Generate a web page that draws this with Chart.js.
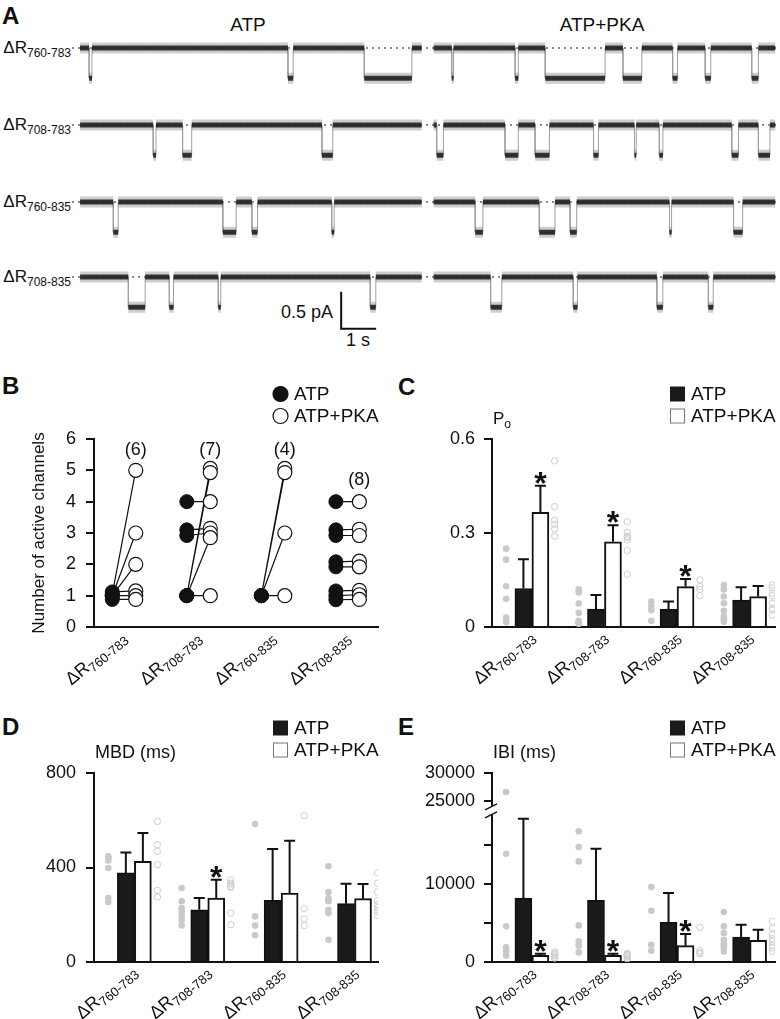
<!DOCTYPE html>
<html>
<head>
<meta charset="utf-8">
<script src="https://cdn.jsdelivr.net/npm/chart.js@4/dist/chart.umd.min.js"></script>
<style>
body { margin: 0; background: #fff; font-family: 'Liberation Sans', Arial, sans-serif; color: #111; }
#fig { position: relative; width: 780px; height: 1019px; overflow: hidden; }
canvas { position: absolute; }
.t { position: absolute; white-space: nowrap; line-height: 1; }
.pl { font-weight: bold; font-size: 24px; }
.rl { font-size: 17px; left: 0; width: 71px; text-align: right; }
.rl sub { font-size: 12px; vertical-align: -4px; }
</style>
</head>
<body>
<div id="fig">
  <div class="t pl" style="left:2px;top:4px">A</div>
  <div class="t pl" style="left:2px;top:374px">B</div>
  <div class="t pl" style="left:398px;top:375px">C</div>
  <div class="t pl" style="left:2px;top:715px">D</div>
  <div class="t pl" style="left:398px;top:715px">E</div>

  <div class="t" style="left:198px;top:15px;width:100px;text-align:center;font-size:19px">ATP</div>
  <div class="t" style="left:552px;top:15px;width:100px;text-align:center;font-size:19px">ATP+PKA</div>

  <div class="t rl" style="top:39px">&Delta;R<sub>760-783</sub></div>
  <div class="t rl" style="top:116px">&Delta;R<sub>708-783</sub></div>
  <div class="t rl" style="top:193px">&Delta;R<sub>760-835</sub></div>
  <div class="t rl" style="top:268px">&Delta;R<sub>708-835</sub></div>

  <div class="t" style="left:233px;top:303px;width:100px;text-align:right;font-size:18px">0.5 pA</div>
  <div class="t" style="left:338px;top:331px;width:40px;text-align:center;font-size:18px">1 s</div>

  <canvas id="tr1" width="706" height="55" style="left:72px;top:33px"></canvas>
  <canvas id="tr2" width="706" height="55" style="left:72px;top:110px"></canvas>
  <canvas id="tr3" width="706" height="55" style="left:72px;top:187px"></canvas>
  <canvas id="tr4" width="706" height="95" style="left:72px;top:262px"></canvas>

  <canvas id="pB" width="390" height="320" style="left:0;top:370px"></canvas>
  <canvas id="pC" width="390" height="320" style="left:390px;top:370px"></canvas>
  <canvas id="pD" width="390" height="319" style="left:0;top:700px"></canvas>
  <canvas id="pE" width="390" height="319" style="left:390px;top:700px"></canvas>
</div>
<script>
const FONT = "'Liberation Sans', Arial, sans-serif";
Chart.defaults.font.family = FONT;
Chart.defaults.color = '#111';

// ---------- A: single channel traces (openings in s) ----------
const recATP = [0, 9.76];
const recPKA = [10.1, 19.86];
const openAmp = -0.41;   // pA
const row1ATP = [[0.26, 0.34], [5.94, 6.09], [8.12, 9.48]];
const row1PKA = [[10.62, 10.67], [12.43, 12.52], [13.29, 15.0], [15.51, 16.05], [16.93, 17.07], [17.86, 18.02], [19.19, 19.38]];
const row2ATP = [[2.09, 2.17], [2.93, 3.19], [6.91, 7.22]];
const row2PKA = [[10.19, 10.38], [12.14, 12.52], [13.0, 13.41], [14.67, 14.81], [15.84, 15.89], [16.55, 16.65], [18.62, 18.81], [19.38, 19.71]];
const row3ATP = [[0.95, 1.09], [4.08, 4.46], [4.91, 5.07], [7.19, 7.26]];
const row3PKA = [[11.29, 11.51], [13.12, 13.57], [14.0, 14.19], [16.84, 16.9], [18.67, 18.93]];
const row4ATP = [[1.38, 1.86], [2.55, 2.67], [3.95, 4.02], [8.29, 8.45]];
const row4PKA = [[11.73, 12.05], [14.09, 14.21], [16.48, 16.65], [17.95, 18.09]];
const scaleBarT = 7.46, scaleBarTop = -0.2;  // 1 s x 0.5 pA

// ---------- B: number of active channels ----------
const catLabels = ['760-783', '708-783', '760-835', '708-835'];
const chATP = [[1.05, 1, 1, 1.12, 1, 0.88], [4, 3.1, 2.92, 1, 1, 1, 1], [1, 1, 1, 1], [4, 3.1, 2.92, 2.08, 1.92, 1.15, 1, 0.87]];
const chPKA = [[5, 3, 2, 1.15, 1, 0.88], [4, 3.15, 3, 5.06, 4.93, 2.85, 1], [5.06, 4.93, 3, 1], [4, 3.12, 2.92, 2.1, 1.92, 1.17, 1.03, 0.88]];
const chN = ['(6)', '(7)', '(4)', '(8)'];
const chNy = [5.65, 5.65, 5.65, 4.7];
const chTicks = [0, 1, 2, 3, 4, 5, 6];

// ---------- C: Po ----------
const poATP = [0.123, 0.057, 0.057, 0.086];
const poATPerr = [0.093, 0.045, 0.024, 0.041];
const poPKA = [0.366, 0.272, 0.129, 0.097];
const poPKAerr = [0.085, 0.053, 0.024, 0.034];
const poStar = [1, 1, 1, 0];
const poDotsATP = [[0.25, 0.215, 0.13, 0.09, 0.03, 0.015], [0.12, 0.11, 0.075, 0.045, 0.02, 0.015, 0.01], [0.081, 0.067, 0.054, 0.02], [0.134, 0.12, 0.097, 0.076, 0.052, 0.033, 0.025, 0.017]];
const poDotsPKA = [[0.53, 0.384, 0.341, 0.328, 0.313, 0.29], [0.336, 0.302, 0.29, 0.286, 0.278, 0.244, 0.168], [0.15, 0.13, 0.12, 0.1], [0.134, 0.125, 0.108, 0.1, 0.076, 0.06, 0.054, 0.038]];
const poTicks = [0, 0.3, 0.6];

// ---------- D: MBD ----------
const mbdATP = [377, 221, 261, 247];
const mbdATPerr = [87, 50, 217, 84];
const mbdPKA = [426, 271, 292, 268];
const mbdPKAerr = [120, 77, 221, 62];
const mbdStar = [0, 1, 0, 0];
const mbdDotsATP = [[447, 440, 430, 398, 271, 254], [313, 257, 228, 214, 197, 179, 155], [584, 193, 154, 113], [405, 296, 271, 262, 257, 221, 207, 94]];
const mbdDotsPKA = [[595, 497, 468, 412, 303, 275], [348, 334, 330, 320, 316, 207, 158], [619, 226, 182, 154], [377, 334, 296, 260, 243, 230, 214, 197]];
const mbdTicks = [0, 400, 800];

// ---------- E: IBI ----------
const ibiATP = [8200, 7900, 5080, 3200];
const ibiATPerr = [10170, 6630, 3760, 1580];
const ibiPKA = [850, 850, 2090, 2770];
const ibiPKAerr = [210, 210, 1500, 1370];
const ibiStar = [1, 1, 1, 0];
const ibiDotsATP = [[26650, 13880, 4570, 1870, 1360, 800], [16750, 14740, 12900, 4690, 2640, 2090, 1230], [9620, 6580, 2220, 1450], [6410, 4570, 3720, 2860, 2350, 2100, 1870, 1360]];
const ibiDotsPKA = [[1300, 1100, 950, 800, 600, 500], [1100, 1000, 900, 800, 700, 500, 400], [4440, 1450, 1200, 1060], [5210, 4360, 3500, 3000, 2640, 2090, 1800, 1360]];
const ibiTicksLow = [0, 5000, 10000, 15000];
const ibiLabelsLow = ['0', '', '10000', ''];
const ibiTicksHigh = [25000, 30000];

// =====================================================================
function traceRow(id, opsATP, opsPKA, withBar) {
  const closed = [], open = [], trans = [];
  [[recATP, opsATP], [recPKA, opsPKA]].forEach(([rec, ops]) => {
    let t = rec[0];
    trans.push({x: rec[0], y: 0});
    ops.forEach(([a, b]) => {
      closed.push({x: t, y: 0}, {x: a, y: 0}, {x: a, y: null});
      open.push({x: a, y: openAmp}, {x: b, y: openAmp}, {x: b, y: null});
      trans.push({x: a, y: 0}, {x: a, y: openAmp}, {x: b, y: openAmp}, {x: b, y: 0});
      t = b;
    });
    closed.push({x: t, y: 0}, {x: rec[1], y: 0}, {x: rec[1], y: null});
    trans.push({x: rec[1], y: 0}, {x: rec[1], y: null});
  });
  const canvas = document.getElementById(id);
  const xMin = -0.23, xMax = 19.94;
  const yMax = 15 / 74, yMin = yMax - canvas.height / 74;
  const band = (data, w, c, order) => ({data, borderColor: c, borderWidth: w, pointRadius: 0, spanGaps: false, borderCapStyle: 'butt', order});
  const datasets = [
    band(closed, 5, 'rgba(25,25,25,0.85)', 1),
    band(open, 5, 'rgba(25,25,25,0.85)', 1),
    band(closed, 11, 'rgba(90,90,90,0.3)', 2),
    band(open, 11, 'rgba(90,90,90,0.3)', 2),
    band(trans, 1, '#a0a0a0', 3),
    {data: [{x: xMin, y: 0}, {x: xMax, y: 0}], borderColor: '#8a8a8a', borderWidth: 2, borderDash: [2, 4], pointRadius: 0, order: 4}
  ];
  if (withBar) {
    datasets.push({data: [{x: scaleBarT, y: scaleBarTop}, {x: scaleBarT, y: scaleBarTop - 0.5}, {x: scaleBarT + 1, y: scaleBarTop - 0.5}],
      borderColor: '#111', borderWidth: 2, pointRadius: 0, order: 0});
  }
  new Chart(canvas, {
    type: 'line',
    data: {datasets},
    options: {
      responsive: false, animation: false, devicePixelRatio: 1,
      layout: {padding: 0},
      plugins: {legend: {display: false}, tooltip: {enabled: false}},
      scales: {
        x: {type: 'linear', min: xMin, max: xMax, display: false},
        y: {type: 'linear', min: yMin, max: yMax, display: false}
      }
    }
  });
}
traceRow('tr1', row1ATP, row1PKA, false);
traceRow('tr2', row2ATP, row2PKA, false);
traceRow('tr3', row3ATP, row3PKA, false);
traceRow('tr4', row4ATP, row4PKA, true);

// ---------- shared drawing helpers ----------
function catLabel(ctx, x, y, sub) {
  ctx.save();
  ctx.translate(x, y);
  ctx.rotate(-40 * Math.PI / 180);
  ctx.fillStyle = '#111';
  ctx.textAlign = 'left';
  ctx.textBaseline = 'alphabetic';
  ctx.font = '18px ' + FONT;
  const w1 = ctx.measureText('\u0394R').width;
  ctx.font = '13px ' + FONT;
  const w2 = ctx.measureText(sub).width;
  ctx.font = '18px ' + FONT;
  ctx.fillText('\u0394R', -(w1 + w2), 13);
  ctx.font = '13px ' + FONT;
  ctx.fillText(sub, -w2, 17);
  ctx.restore();
}
function legend(ctx, ca, shape) {
  const x0 = ca.right - 105;
  const rows = [[ca.top - 45, 'ATP', true], [ca.top - 23, 'ATP+PKA', false]];
  rows.forEach(([yc, txt, filled]) => {
    ctx.save();
    if (shape === 'circle') {
      ctx.beginPath();
      ctx.arc(x0 + 7.5, yc, 7.5, 0, Math.PI * 2);
      ctx.fillStyle = filled ? '#111' : '#fff';
      ctx.fill();
      ctx.lineWidth = 1.2; ctx.strokeStyle = '#111'; ctx.stroke();
    } else if (filled) {
      ctx.fillStyle = '#1a1a1a';
      ctx.fillRect(x0, yc - 7.5, 15, 15);
    } else {
      ctx.strokeStyle = '#777'; ctx.lineWidth = 1;
      ctx.strokeRect(x0 + 0.5, yc - 7, 14, 14);
    }
    ctx.fillStyle = '#111';
    ctx.font = '19px ' + FONT;
    ctx.textBaseline = 'middle';
    ctx.fillText(txt, x0 + 21, yc + 1);
    ctx.restore();
  });
}
function yTitle(ctx, ca, main, sub) {
  ctx.save();
  ctx.fillStyle = '#111';
  ctx.textBaseline = 'alphabetic';
  ctx.font = (sub ? '17px ' : '18px ') + FONT;
  ctx.fillText(main, ca.left + 1, ca.top - 15);
  if (sub) {
    const w = ctx.measureText(main).width;
    ctx.font = '12px ' + FONT;
    ctx.fillText(sub, ca.left + 1 + w, ca.top - 11);
  }
  ctx.restore();
}
function yAxis(o) {
  return Object.assign({
    type: 'linear', position: 'left', min: o.min, max: o.max,
    border: {display: true, color: '#111', width: 2},
    grid: {display: true, drawOnChartArea: false, drawTicks: true, tickLength: 8, color: '#111', lineWidth: 2},
    ticks: {font: {size: 18}, color: '#111', padding: o.pad,
      callback: v => o.labels ? o.labels[o.ticks.indexOf(v)] : String(v)},
    afterFit: s => { s.width = o.w; },
    afterBuildTicks: s => { s.ticks = o.ticks.map(v => ({value: v})); }
  }, o.extra || {});
}
function xAxis(max, h) {
  return {
    type: 'linear', min: 0, max, offset: false,
    grid: {display: false},
    border: {display: true, color: '#111', width: 2},
    ticks: {display: false},
    afterFit: s => { s.height = h; }
  };
}

// ---------- B ----------
(function () {
  const catX = catLabels.map((c, i) => i + 0.40);
  const ax = catX.map(x => x - 0.155), px = catX.map(x => x + 0.16);
  const lines = [], atpPts = [], pkaPts = [];
  chATP.forEach((arr, i) => {
    arr.forEach((v, j) => {
      lines.push({x: ax[i], y: v}, {x: px[i], y: chPKA[i][j]}, {x: px[i], y: null});
      atpPts.push({x: ax[i], y: v});
    });
    chPKA[i].forEach(v => pkaPts.push({x: px[i], y: v}));
  });
  const deco = {
    id: 'decoB',
    afterDraw(chart) {
      const ctx = chart.ctx, ca = chart.chartArea, xs = chart.scales.x, ys = chart.scales.y;
      catX.forEach((x, i) => catLabel(ctx, xs.getPixelForValue(x) - 5, ca.bottom + 2, catLabels[i]));
      ctx.save();
      ctx.fillStyle = '#111'; ctx.font = '18px ' + FONT; ctx.textAlign = 'center'; ctx.textBaseline = 'middle';
      chN.forEach((t, i) => ctx.fillText(t, xs.getPixelForValue(px[i]), ys.getPixelForValue(chNy[i])));
      ctx.restore();
      legend(ctx, ca, 'circle');
      ctx.save();
      ctx.translate(39, (ca.top + ca.bottom) / 2);
      ctx.rotate(-Math.PI / 2);
      ctx.fillStyle = '#111'; ctx.font = '17px ' + FONT; ctx.textAlign = 'center'; ctx.textBaseline = 'middle';
      ctx.fillText('Number of active channels', 0, 0);
      ctx.restore();
    }
  };
  new Chart(document.getElementById('pB'), {
    type: 'scatter',
    data: {datasets: [
      {data: atpPts, pointRadius: 7, pointBackgroundColor: '#111', pointBorderColor: '#111', pointBorderWidth: 1, order: 0},
      {data: pkaPts, pointRadius: 7, pointBackgroundColor: '#fff', pointBorderColor: '#111', pointBorderWidth: 1.2, order: 1},
      {type: 'line', data: lines, borderColor: '#111', borderWidth: 1.2, pointRadius: 0, spanGaps: false, order: 2}
    ]},
    options: {
      responsive: false, animation: false, devicePixelRatio: 1,
      layout: {padding: {top: 69, right: 12, left: 0, bottom: 0}},
      plugins: {legend: {display: false}, tooltip: {enabled: false}},
      scales: {
        x: xAxis(3.81, 63),
        y: yAxis({min: 0, max: 6, ticks: chTicks, w: 94, pad: 10})
      }
    },
    plugins: [deco]
  });
})();

// ---------- bar panels C, D, E ----------
function barPanel(id, p) {
  const catX = catLabels.map((c, i) => i + 0.55);
  const lowKey = 'y';
  const split = p.split;   // lower-scale maximum for a broken axis
  const dotsA = [], dotsAHigh = [], dotsP = [];
  p.dotsA.forEach((arr, i) => arr.forEach(v => {
    (split && v > split ? dotsAHigh : dotsA).push({x: catX[i] - 0.355, y: v});
  }));
  p.dotsP.forEach((arr, i) => arr.forEach(v => dotsP.push({x: catX[i] + 0.314, y: v})));
  const datasets = [
    {type: 'bar', data: catX.map((x, i) => ({x, y: p.atp[i]})), backgroundColor: '#1a1a1a', borderColor: '#111', borderWidth: 2,
      barThickness: 17, yAxisID: lowKey, order: 1},
    {type: 'bar', data: catX.map((x, i) => ({x, y: p.pka[i]})), backgroundColor: '#fff', borderColor: '#111', borderWidth: 2,
      barThickness: 17, yAxisID: lowKey, order: 1},
    {type: 'scatter', data: dotsA, pointRadius: 3.3, pointBackgroundColor: '#c9c9c9', pointBorderColor: '#c9c9c9', pointBorderWidth: 0, yAxisID: lowKey, order: 2},
    {type: 'scatter', data: dotsP, pointRadius: 3.2, pointBackgroundColor: 'rgba(0,0,0,0)', pointBorderColor: '#cdcdcd', pointBorderWidth: 1, yAxisID: lowKey, order: 2}
  ];
  if (split) {
    datasets.push({type: 'scatter', data: dotsAHigh, pointRadius: 3.3, pointBackgroundColor: '#c9c9c9', pointBorderColor: '#c9c9c9', pointBorderWidth: 0, yAxisID: 'yTop', order: 2});
  }
  const deco = {
    id: 'deco' + id,
    afterDraw(chart) {
      const ctx = chart.ctx, ca = chart.chartArea, xs = chart.scales.x, ys = chart.scales[lowKey];
      catX.forEach((x, i) => catLabel(ctx, xs.getPixelForValue(x) - 5, ca.bottom + 1, catLabels[i]));
      legend(ctx, ca, 'square');
      yTitle(ctx, ca, p.title, p.titleSub);
      ctx.save();
      ctx.strokeStyle = '#111'; ctx.lineWidth = 2;
      [[0, p.atpErr], [1, p.pkaErr]].forEach(([di, errs]) => {
        const meta = chart.getDatasetMeta(di);
        meta.data.forEach((bar, i) => {
          const top = ys.getPixelForValue(chart.data.datasets[di].data[i].y + errs[i]);
          ctx.beginPath();
          ctx.moveTo(bar.x, bar.y); ctx.lineTo(bar.x, top);
          ctx.moveTo(bar.x - 5.5, top); ctx.lineTo(bar.x + 5.5, top);
          ctx.stroke();
          if (di === 1 && p.star[i]) {
            ctx.fillStyle = '#111';
            ctx.font = 'bold 32px ' + FONT;
            ctx.textAlign = 'center';
            ctx.textBaseline = 'alphabetic';
            ctx.fillText('*', bar.x, top + 8);
          }
        });
      });
      ctx.restore();
      if (split) {
        const b = chart.scales.yTop.bottom, axx = chart.scales.y.right;
        ctx.save();
        ctx.fillStyle = '#fff';
        ctx.fillRect(axx - 4, b - 5, 8, 9);
        ctx.strokeStyle = '#111'; ctx.lineWidth = 1.5;
        ctx.beginPath();
        ctx.moveTo(axx - 7, b - 1); ctx.lineTo(axx + 5, b - 7);
        ctx.moveTo(axx - 7, b + 7); ctx.lineTo(axx + 5, b + 1);
        ctx.stroke();
        ctx.restore();
      }
    }
  };
  const scales = {x: xAxis(p.xMax, p.xh)};
  if (split) {
    scales.y = yAxis({min: 0, max: split, ticks: p.ticks, labels: p.labels, w: p.w, pad: p.pad, extra: {stack: 'ibi', stackWeight: 4}});
    scales.yTop = yAxis({min: p.topMin, max: p.topMax, ticks: ibiTicksHigh, w: p.w, pad: p.pad, extra: {stack: 'ibi', stackWeight: 1}});
  } else {
    scales.y = yAxis({min: p.ticks[0], max: p.ticks[p.ticks.length - 1], ticks: p.ticks, w: p.w, pad: p.pad});
  }
  new Chart(document.getElementById(id), {
    type: 'bar',
    data: {datasets},
    options: {
      responsive: false, animation: false, devicePixelRatio: 1,
      layout: {padding: {top: p.top, right: p.right, left: 0, bottom: 0}},
      plugins: {legend: {display: false}, tooltip: {enabled: false}},
      scales
    },
    plugins: [deco]
  });
}

barPanel('pC', {atp: poATP, atpErr: poATPerr, pka: poPKA, pkaErr: poPKAerr, star: poStar, dotsA: poDotsATP, dotsP: poDotsPKA,
  ticks: poTicks, title: 'P', titleSub: 'o', xMax: 3.90, xh: 63, w: 102, pad: 9, top: 69, right: 2});
barPanel('pD', {atp: mbdATP, atpErr: mbdATPerr, pka: mbdPKA, pkaErr: mbdPKAerr, star: mbdStar, dotsA: mbdDotsATP, dotsP: mbdDotsPKA,
  ticks: mbdTicks, title: 'MBD (ms)', xMax: 3.87, xh: 57, w: 94, pad: 10, top: 73, right: 12});
barPanel('pE', {atp: ibiATP, atpErr: ibiATPerr, pka: ibiPKA, pkaErr: ibiPKAerr, star: ibiStar, dotsA: ibiDotsATP, dotsP: ibiDotsPKA,
  ticks: ibiTicksLow, labels: ibiLabelsLow, split: 19385, topMin: 23345, topMax: 30000,
  title: 'IBI (ms)', xMax: 3.90, xh: 57, w: 102, pad: 9, top: 73, right: 2});
</script>
</body>
</html>
